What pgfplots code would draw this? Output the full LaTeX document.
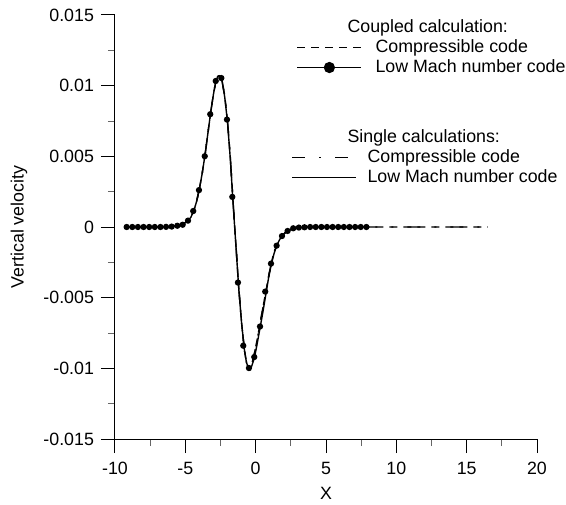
\documentclass[border=0pt]{standalone}
\usepackage{fontspec}
\setmainfont{Liberation Sans}
\usepackage{pgfplots}
\pgfplotsset{compat=1.18}
\usepackage{pgfplotstable}

% Low Mach number code (markers), coupled calculation
\pgfplotstableread{
x y
-9.17 0
-8.77 0
-8.37 0
-7.97 0
-7.57 0
-7.17 0
-6.77 0
-6.37 0.00001
-5.97 0.00003
-5.57 0.00009
-5.19 0.00016
-4.81 0.00045
-4.44 0.00113
-4.03 0.00261
-3.62 0.00501
-3.23 0.00798
-2.84 0.01033
-2.44 0.01054
-2.04 0.00760
-1.66 0.00213
-1.26 -0.00393
-0.88 -0.00840
-0.48 -0.00998
-0.10 -0.00920
0.31 -0.00704
0.68 -0.00457
1.09 -0.00259
1.49 -0.00132
1.87 -0.00064
2.27 -0.00028
2.67 -0.00009
3.07 -0.00004
3.47 -0.00002
3.87 0
4.27 0
4.67 0
5.07 0
5.47 0
5.87 0
6.27 0
6.67 0
7.07 0
7.47 0
7.87 0
}\lowmachmarks

% Low Mach number code, single calculation (line)
\pgfplotstableread{
x y
-9.17 0
-6.4 0.00001
-6.0 0.00003
-5.6 0.0001
-5.2 0.00017
-4.8 0.00045
-4.6 0.0007
-4.4 0.00115
-4.2 0.0018
-4.0 0.0027
-3.8 0.0038
-3.6 0.0051
-3.4 0.0066
-3.2 0.0081
-3.0 0.0094
-2.85 0.0102
-2.7 0.01065
-2.6 0.0107
-2.5 0.01065
-2.4 0.0104
-2.2 0.0092
-2.0 0.0074
-1.8 0.0048
-1.6 0.0016
-1.4 -0.0014
-1.2 -0.0044
-1.0 -0.0068
-0.8 -0.0087
-0.65 -0.0096
-0.5 -0.0100
-0.4 -0.0101
-0.3 -0.0099
-0.1 -0.0093
0.1 -0.0083
0.3 -0.0072
0.5 -0.0061
0.7 -0.0049
0.9 -0.0037
1.1 -0.0027
1.3 -0.0019
1.5 -0.0013
1.7 -0.0009
1.9 -0.0006
2.1 -0.0004
2.4 -0.00022
2.8 -0.00008
3.2 -0.00003
4.0 0
7.9 0
}\lowmachline

% Compressible code (lines)
\pgfplotstableread{
x y
-9.17 0
-6.4 0.00001
-6.0 0.00003
-5.6 0.0001
-5.2 0.00018
-4.8 0.00046
-4.6 0.0007
-4.4 0.00116
-4.2 0.0018
-4.0 0.0027
-3.8 0.0038
-3.6 0.0051
-3.4 0.0066
-3.2 0.0081
-3.0 0.0094
-2.85 0.0102
-2.7 0.01065
-2.6 0.0107
-2.5 0.01065
-2.4 0.0104
-2.2 0.0093
-2.0 0.0075
-1.8 0.0049
-1.6 0.0017
-1.4 -0.0013
-1.2 -0.0043
-1.0 -0.0068
-0.8 -0.0087
-0.65 -0.0096
-0.5 -0.0100
-0.4 -0.0100
-0.3 -0.0098
-0.1 -0.0090
0.1 -0.0080
0.3 -0.0069
0.5 -0.0058
0.7 -0.0047
0.9 -0.0036
1.1 -0.0026
1.3 -0.0018
1.5 -0.0013
1.7 -0.0009
1.9 -0.0006
2.1 -0.0004
2.4 -0.00022
2.8 -0.00008
3.2 -0.00003
4.0 0
16.5 0
}\compline

\begin{document}
\begin{tikzpicture}[font=\fontsize{8.9}{10.7}\selectfont]
\begin{axis}[
  scale only axis,
  width=211pt, height=212pt,
  xmin=-10, xmax=20, ymin=-0.015, ymax=0.015,
  axis x line*=bottom, axis y line*=left,
  axis line style={line width=0.5pt},
  scaled x ticks=false, scaled y ticks=false,
  xtick={-10,-5,0,5,10,15,20},
  xticklabels={-10,-5,0,5,10,15,20},
  ytick={-0.015,-0.01,-0.005,0,0.005,0.01,0.015},
  yticklabels={-0.015,-0.01,-0.005,0,0.005,0.01,0.015},
  minor x tick num=1, minor y tick num=1,
  tick align=outside,
  major tick length=7pt, minor tick length=3.5pt,
  tick style={line width=0.5pt, black},
  minor tick style={line width=0.5pt, black!60},
  tick label style={font=\fontsize{8.9}{10.7}\selectfont},
  xticklabel style={yshift=-1pt},
  xlabel={X}, ylabel={Vertical velocity},
  every axis x label/.style={at={(axis description cs:0.5,-0.1274)}, anchor=center},
  every axis y label/.style={at={(axis description cs:-0.2275,0.5)}, anchor=center, rotate=90},
  legend image code/.code={\draw[mark repeat=2,mark phase=2,#1] plot coordinates {(0pt,0pt) (16pt,0pt) (32pt,0pt)};},
  legend style={draw=none, fill=none, at={(0.418,0.995)}, anchor=north west,
    font=\fontsize{8.9}{10.7}\selectfont, row sep=0pt, inner sep=0pt,
    nodes={inner sep=0.5pt, text height=7pt, text depth=2pt},
    /tikz/every odd column/.append style={column sep=6.3pt}},
  legend cell align=left,
]
\addplot[black, line width=0.7pt, dash pattern=on 4pt off 3pt, forget plot] table[x=x,y=y] {\compline};
\addplot[black, line width=0.7pt, dash pattern=on 6.5pt off 7pt on 1pt off 7pt, forget plot] table[x=x,y=y] {\compline};
\addplot[black, line width=0.7pt, forget plot] table[x=x,y=y] {\lowmachline};
\addplot[black, line width=0.7pt, only marks, mark=*, mark size=1.2pt, forget plot] table[x=x,y=y] {\lowmachmarks};

\addlegendimage{empty legend}
\addlegendentry{\hspace*{-14pt}Coupled calculation:}
\addlegendimage{black, line width=0.6pt, dash pattern=on 4pt off 3pt}
\addlegendentry{Compressible code}
\addlegendimage{black, line width=0.6pt, mark=*, mark size=2.5pt}
\addlegendentry{Low Mach number code}
\addlegendimage{empty legend}
\addlegendentry[text height=22pt]{}
\addlegendimage{empty legend}
\addlegendentry{\hspace*{-14pt}Single calculations:}
\addlegendimage{black, line width=0.6pt, xshift=-2.5pt, dash pattern=on 6.5pt off 7pt on 1pt off 7pt}
\addlegendentry{\hspace*{-4pt}Compressible code}
\addlegendimage{black, line width=0.6pt, xshift=-2.5pt}
\addlegendentry{\hspace*{-4pt}Low Mach number code}
\end{axis}
\pgfresetboundingbox
\path ([shift={(-57.5pt,-32.5pt)}]current axis.south west) rectangle ([shift={(14.5pt,7.5pt)}]current axis.north east);
\end{tikzpicture}
\end{document}
